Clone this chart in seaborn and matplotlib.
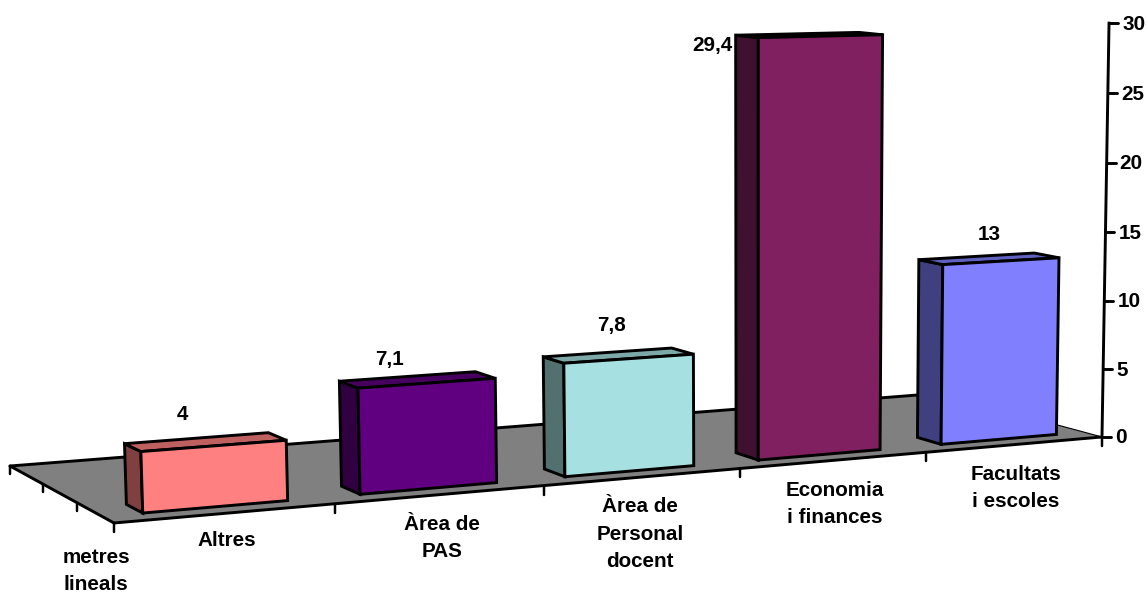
import numpy as np
import pandas as pd
import matplotlib
matplotlib.use("Agg")
import matplotlib.pyplot as plt
from matplotlib.patches import Polygon
from matplotlib.transforms import Transform
import seaborn as sns

categories = ["Altres", "Àrea de\nPAS", "Àrea de\nPersonal\ndocent", "Economia\ni finances", "Facultats\ni escoles"]
values = [4, 7.1, 7.8, 29.4, 13]
front_colors = ["#FF8080", "#600080", "#A6E0E0", "#802060", "#8080FF"]
side_colors = ["#804040", "#300040", "#537070", "#401030", "#404080"]
top_colors = ["#BF6060", "#480060", "#7DA8A8", "#601848", "#6060BF"]
y_ticks = [0, 5, 10, 15, 20, 25, 30]
y_title = "metres\nlineals"

BAR_WIDTH = 0.66
BAR_SHIFT = 0.01
D_FRONT, D_BACK = 0.105, 0.25

# Camera matrix of the pseudo-3D view: columns = category span, depth, value, origin
CAMERA = np.array([
    [1158.8, -103.1, -0.583, 114.0],
    [-18.3, -15.06, -15.95, 523.0],
    [0.155, 0.09, -0.00077, 1.0],
])


def project(x, depth, value):
    """x in category units (0 = centre of first), depth 0-1, value in metres."""
    x = np.asarray(x, float)
    pts = np.stack([(x + 0.5) / 5, np.full_like(x, depth), np.asarray(value, float) * np.ones_like(x), np.ones_like(x)])
    h = CAMERA @ pts
    return np.column_stack([h[0] / h[2], h[1] / h[2]])


class FrontFace(Transform):
    input_dims = 2
    output_dims = 2
    has_inverse = False

    def transform_non_affine(self, values):
        values = np.asarray(values, float)
        return project(values[:, 0] + BAR_SHIFT, D_FRONT, values[:, 1])


sns.set_theme(style="white")
plt.rcParams["font.family"] = ["Liberation Sans", "DejaVu Sans"]
plt.rcParams["font.weight"] = "bold"
FS = 14.9
LW = 2.1

fig = plt.figure(figsize=(11.46, 5.93), dpi=100, facecolor="white")

# Pixel canvas for floor, axes, text
px = fig.add_axes([0, 0, 1, 1], zorder=1)
px.set_xlim(0, 1146)
px.set_ylim(593, 0)
px.set_axis_off()

# Bars through seaborn, then mapped into the 3D view
ax = fig.add_axes([0, 0, 1, 1], zorder=2)
df = pd.DataFrame({"category": categories, "value": values})
sns.barplot(data=df, x="category", y="value", hue="category", palette=front_colors,
            saturation=1, width=BAR_WIDTH, edgecolor="black", linewidth=LW,
            legend=False, ax=ax)
ax.set_axis_off()
ax.patch.set_visible(False)
front_tf = FrontFace() + px.transData
for bar in ax.patches:
    bar.set_transform(front_tf)
    bar.set_clip_on(False)
    bar.set_joinstyle("miter")
    bar.set_zorder(3)

# Side and top faces
for i, v in enumerate(values):
    xl, xr = i - BAR_WIDTH / 2 + BAR_SHIFT, i + BAR_WIDTH / 2 + BAR_SHIFT
    fl0 = project([xl], D_FRONT, 0)[0]
    fl1 = project([xl], D_FRONT, v)[0]
    fr1 = project([xr], D_FRONT, v)[0]
    bl0 = project([xl], D_BACK, 0)[0]
    bl1 = project([xl], D_BACK, v)[0]
    br1 = project([xr], D_BACK, v)[0]
    ax.add_patch(Polygon([bl0, bl1, fl1, fl0], closed=True, facecolor=side_colors[i], edgecolor="black",
                         lw=LW, transform=px.transData, clip_on=False, zorder=2, joinstyle="miter"))
    ax.add_patch(Polygon([fl1, bl1, br1, fr1], closed=True, facecolor=top_colors[i], edgecolor="black",
                         lw=LW, transform=px.transData, clip_on=False, zorder=2, joinstyle="miter"))

# Floor
A = project([-0.5], 1, 0)[0]
B = project([-0.5], 0, 0)[0]
C = project([4.5], 0, 0)[0]
D = project([4.5], 1, 0)[0]
px.add_patch(Polygon([A, B, C, D], closed=True, facecolor="#808080", edgecolor="none", zorder=1))
for p, q, w in [(A, B, LW), (B, C, LW), (A, D, LW), (C, D, 0.8)]:
    px.plot([p[0], q[0]], [p[1], q[1]], color="black", lw=w, zorder=2, solid_capstyle="round")

# Floor ticks
for k in range(6):
    p = project([k - 0.5], 0, 0)[0]
    px.plot([p[0], p[0]], [p[1], p[1] + 9], color="black", lw=LW * 0.85, zorder=2)
for dk in (1 / 3, 2 / 3, 1):
    p = project([-0.5], dk, 0)[0]
    px.plot([p[0], p[0]], [p[1], p[1] + 8], color="black", lw=LW * 0.85, zorder=2)

# Value axis
p0 = project([4.5], 0, 0)[0]
p1 = project([4.5], 0, y_ticks[-1])[0]
px.plot([p0[0], p1[0]], [p0[1], p1[1]], color="black", lw=LW, zorder=2, solid_capstyle="projecting")
for t in y_ticks:
    p = project([4.5], 0, t)[0]
    px.plot([p[0], p[0] + 9], [p[1], p[1]], color="black", lw=LW, zorder=2)
    px.text(p[0] + 13, p[1] + 1, str(t), ha="left", va="center", fontsize=FS, fontweight="bold", color="black", zorder=4)

# Value labels
for v, (lx, ly) in zip(values, [(182, 415), (390, 359), (611, 326), (712, 45), (989, 235)]):
    px.text(lx, ly, format(v, "g").replace(".", ","), ha="center", va="center", fontsize=FS,
            fontweight="bold", color="black", zorder=4)

# Category labels
for c, (lx, ly) in zip(categories, [(227, 541), (442, 538), (640, 534), (835, 504), (1016, 488)]):
    px.text(lx, ly, c, ha="center", va="center", fontsize=FS, fontweight="bold", color="black",
            linespacing=1.55, zorder=4)
px.text(96, 571, y_title, ha="center", va="center", fontsize=FS, fontweight="bold", color="black",
        linespacing=1.55, zorder=4)

fig.savefig("out.png", dpi=100, facecolor="white")
